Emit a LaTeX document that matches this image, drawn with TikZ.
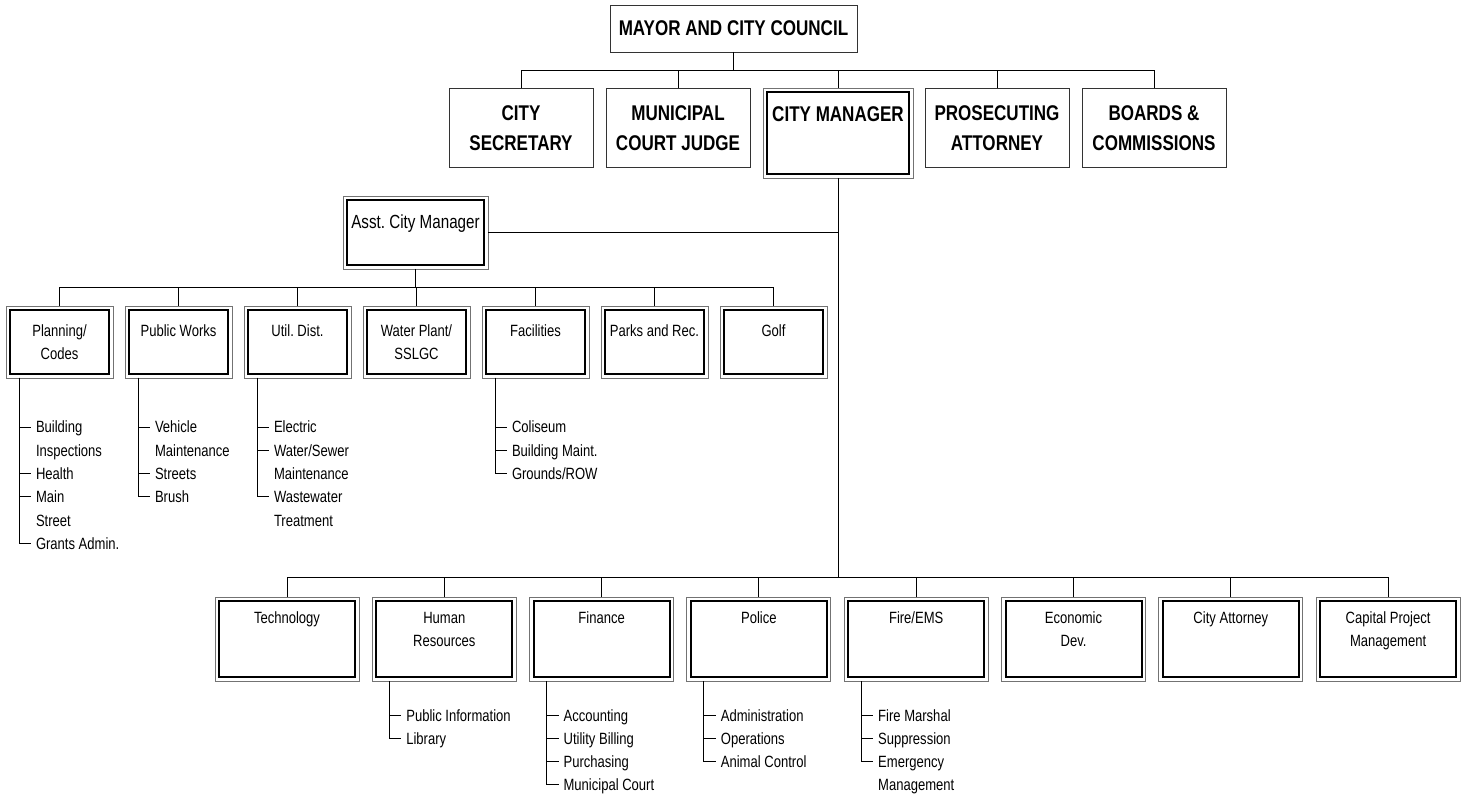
\documentclass[tikz,border=0pt]{standalone}
\usepackage{fontspec}
\setmainfont{Liberation Sans}[FakeStretch=0.8]
\usetikzlibrary{positioning}
\frenchspacing

\newcommand\orgbig{\fontsize{21.3}{30}\selectfont\bfseries}
\newcommand\orgsmall{\fontsize{16.3}{23}\selectfont}

\begin{document}
\begin{tikzpicture}[x=1pt,y=-1pt,line width=0.9pt,node distance=13pt,
  every node/.style={inner sep=0pt,outer sep=0pt},
  boxtext/.style n args={4}{execute at begin node={#4\begin{minipage}[c][#2][t]{#1}\centering\vspace*{#3}\strut},
    execute at end node={\end{minipage}}},
  chief/.style={draw=black!80,line width=0.9pt},
  lead/.style={draw=black!55,line width=0.9pt,
    path picture={\draw[black,line width=2pt]
      ([shift={(4pt,-4pt)}]path picture bounding box.north west) rectangle
      ([shift={(-4pt,4pt)}]path picture bounding box.south east);}},
  officer/.style={chief,boxtext={144pt}{79pt}{11.6pt}{\orgbig}},
  unit/.style={lead,boxtext={107pt}{72pt}{14.4pt}{\orgsmall}},
  dept/.style={lead,boxtext={144pt}{84pt}{10.7pt}{\orgsmall}},
  item/.style={anchor=base west,font=\orgsmall}]

  \useasboundingbox (0,0) rectangle (1468,799);

  % council and officers
  \node[chief,font=\orgbig,minimum width=247pt,minimum height=47pt] (mayor) at (733.5,28.5) {MAYOR AND CITY COUNCIL};
  \node[officer] (sec) at (521,127.5) {CITY\\SECRETARY};
  \node[officer] (mcj) [right=of sec] {MUNICIPAL\\COURT JUDGE};
  \node[lead,boxtext={150pt}{90pt}{12.6pt}{\orgbig}] (cm) [right=of mcj.north east,anchor=north west] {CITY MANAGER};
  \node[officer] (pros) [right=12pt of cm.north east,anchor=north west] {PROSECUTING\\ATTORNEY};
  \node[officer] (bc) [right=of pros] {BOARDS \&\\COMMISSIONS};

  \node[lead,boxtext={145pt}{73pt}{14.6pt}{\fontsize{19}{26}\selectfont}] (acm) at (415.5,232.5) {Asst. City Manager};

  % units under the assistant
  \node[unit] (plan) at (59.5,342) {Planning/\\Codes};
  \node[unit] (pw) [right=12pt of plan] {Public Works};
  \node[unit] (ud) [right=12pt of pw] {Util. Dist.};
  \node[unit] (wp) [right=12pt of ud] {Water Plant/\\SSLGC};
  \node[unit] (fac) [right=12pt of wp] {Facilities};
  \node[unit] (pr) [right=12pt of fac] {Parks and Rec.};
  \node[unit] (golf) [right=12pt of pr] {Golf};

  % departments under the manager
  \node[dept] (tech) at (287,639) {Technology};
  \node[dept] (hr) [right=13.3pt of tech] {Human\\Resources};
  \node[dept] (fin) [right=13.3pt of hr] {Finance};
  \node[dept] (pol) [right=13.3pt of fin] {Police};
  \node[dept] (fire) [right=13.3pt of pol] {Fire/EMS};
  \node[dept] (econ) [right=13.3pt of fire] {Economic\\Dev.};
  \node[dept] (catt) [right=13.3pt of econ] {City Attorney};
  \node[dept] (cpm) [right=13.3pt of catt] {Capital Project\\Management};

  % connectors
  \draw (mayor.south) -- ++(0,18) coordinate (bar1);
  \foreach \n in {sec,mcj,cm,pros,bc}
    \draw (\n.north) |- (bar1);
  \draw (cm.south) -- ++(0,399) coordinate (bar3);
  \foreach \n in {tech,hr,fin,pol,fire,econ,catt,cpm}
    \draw (\n.north) |- (bar3);
  \draw (acm.east) -- (acm.east -| cm.south);
  \draw (acm.south) -- ++(0,18) coordinate (bar2);
  \foreach \n in {plan,pw,ud,wp,fac,pr,golf}
    \draw (\n.north) |- (bar2);

  % sections
  \foreach \pa/\ix/\lbl in {plan/0/Building\\Inspections, plan/2/Health, plan/3/Main\\Street, plan/5/Grants Admin.,
      pw/0/Vehicle\\Maintenance, pw/2/Streets, pw/3/Brush,
      ud/0/Electric, ud/1/Water\slash Sewer\\Maintenance, ud/3/Wastewater\\Treatment,
      fac/0/Coliseum, fac/1/Building Maint., fac/2/Grounds\slash ROW}
  {
    \node[item] (\pa-\ix) at ([xshift=30pt,yshift={-(55+23.3*\ix)*1pt}]\pa.south west) {\parbox[t]{150pt}{\orgsmall\baselineskip=23.3pt\lbl}};
    \draw ([xshift=13pt]\pa.south west) |- ([xshift=-5pt,yshift=6pt]\pa-\ix.base west);
  }
  \foreach \pa/\ix/\lbl in {hr/0/Public Information, hr/1/Library,
      fin/0/Accounting, fin/1/Utility Billing, fin/2/Purchasing, fin/3/Municipal Court,
      pol/0/Administration, pol/1/Operations, pol/2/Animal Control,
      fire/0/Fire Marshal, fire/1/Suppression, fire/2/Emergency\\Management}
  {
    \node[item] (\pa-\ix) at ([xshift=34pt,yshift={-(40+23*\ix)*1pt}]\pa.south west) {\parbox[t]{150pt}{\orgsmall\lbl}};
    \draw ([xshift=17pt]\pa.south west) |- ([xshift=-5pt,yshift=6pt]\pa-\ix.base west);
  }
\end{tikzpicture}
\end{document}
